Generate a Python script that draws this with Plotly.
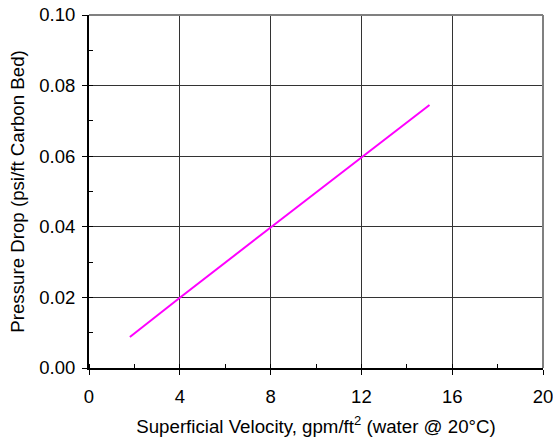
import plotly.graph_objects as go

velocity = [1.8, 4, 8, 12, 15]
pressure_drop = [0.0088, 0.0199, 0.0398, 0.0597, 0.0745]

x_ticks = [0, 4, 8, 12, 16, 20]
y_ticks = [0.00, 0.02, 0.04, 0.06, 0.08, 0.10]

fig = go.Figure()
fig.add_trace(go.Scatter(x=velocity, y=pressure_drop, mode="lines",
                         line=dict(color="#FF00FF", width=2), showlegend=False))

fam = "Liberation Sans, Arial, sans-serif"
tickfont = dict(family=fam, size=18.5, color="black")
titlefont = dict(family=fam, size=18.7, color="black")

fig.update_layout(
    width=553, height=444,
    margin=dict(l=89, r=10, t=15, b=76),
    paper_bgcolor="white", plot_bgcolor="white",
    font=dict(family=fam, size=18, color="black"),
    xaxis=dict(range=[0, 20], tickvals=x_ticks, ticktext=[str(v) for v in x_ticks],
               tickfont=tickfont, automargin=False, ticklabeloverflow="allow",
               showgrid=True, gridcolor="#333333", gridwidth=1,
               showline=True, linecolor="black", linewidth=2,
               ticks="outside", ticklen=5, tickcolor="black",
               minor=dict(dtick=2, ticks="inside", ticklen=4, tickcolor="black", showgrid=False),
               zeroline=False,
               title=dict(text="Superficial Velocity, gpm/ft<sup>2</sup> (water @ 20°C)",
                          font=titlefont, standoff=14),
               ticklabelstandoff=6),
    yaxis=dict(range=[0, 0.10], tickvals=y_ticks, ticktext=[f"{v:.2f}" for v in y_ticks],
               tickfont=tickfont, automargin=False, ticklabeloverflow="allow",
               showgrid=True, gridcolor="#333333", gridwidth=1,
               showline=True, linecolor="black", linewidth=2,
               ticks="outside", ticklen=5, tickcolor="black",
               minor=dict(dtick=0.01, ticks="inside", ticklen=4, tickcolor="black", showgrid=False),
               zeroline=False, ticklabelstandoff=3,
               title=dict(text="Pressure Drop (psi/ft Carbon Bed)", font=titlefont, standoff=10)),
    shapes=[
        dict(type="line", xref="paper", yref="paper", x0=0, x1=1, y0=1, y1=1,
             line=dict(color="#808080", width=2)),
        dict(type="line", xref="paper", yref="paper", x0=1, x1=1, y0=0, y1=1,
             line=dict(color="#808080", width=2)),
    ],
)

fig.write_html("out.html", config={"displayModeBar": False},
               post_script="document.body.style.margin='0';document.body.style.overflow='hidden';")
